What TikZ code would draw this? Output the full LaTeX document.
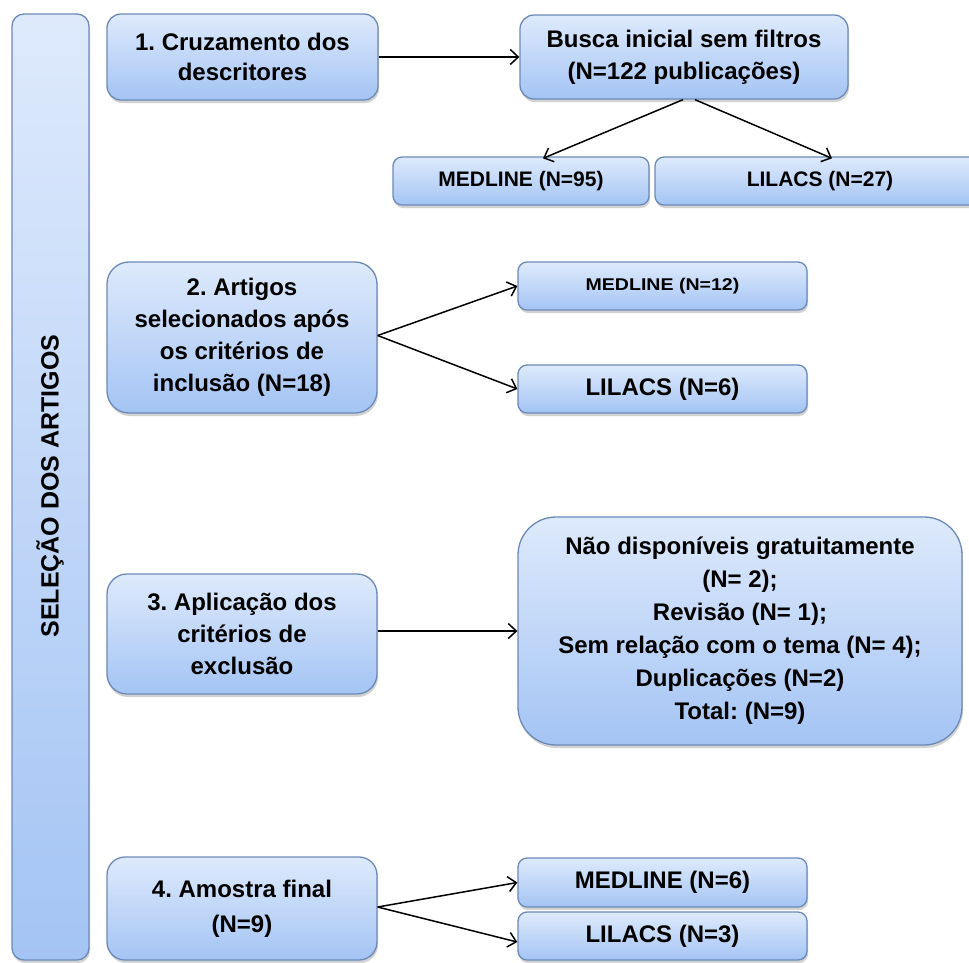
\documentclass[tikz,border=0pt]{standalone}
\usepackage{fontspec}
\setmainfont{Liberation Sans}
\frenchspacing
\usetikzlibrary{arrows.meta,shadows,calc}
\definecolor{boxtop}{RGB}{222,234,252}
\definecolor{boxbot}{RGB}{164,196,244}
\definecolor{boxline}{RGB}{108,138,182}
\tikzset{
  box/.style={draw=boxline, line width=1.3pt, rectangle, rounded corners=14pt,
    top color=boxtop, bottom color=boxbot, align=center, inner sep=2pt,
    font=\fontsize{24}{32}\selectfont\bfseries,
    drop shadow={opacity=0.35, shadow xshift=1pt, shadow yshift=-3pt}},
  smallbox/.style={box, rounded corners=9pt},
  arr/.style={line width=1.5pt, -{Straight Barb[length=8pt,width=15pt,line width=1.5pt]}}
}
\begin{document}
\begin{tikzpicture}[x=1pt,y=-1pt]
\useasboundingbox (0,0) rectangle (969,962);
\fill[white] (0,0) rectangle (969,962);

\node[box, rounded corners=12pt, minimum width=77pt, minimum height=946pt] (side) at (50.5,487) {};
\node[rotate=90, font=\fontsize{25}{28}\selectfont\bfseries] (sidelbl) at (50,486) {SELEÇÃO DOS ARTIGOS};

\node[box, minimum width=271pt, minimum height=86pt, font=\fontsize{24}{30}\selectfont\bfseries] (b1) at (242.5,57) {1. Cruzamento dos\\descritores};
\node[box, minimum width=328pt, minimum height=84pt] (busca) at (684,57) {Busca inicial sem filtros\\(N=122 publicações)};
\node[smallbox, minimum width=256pt, minimum height=48pt, font=\fontsize{21}{26}\selectfont\bfseries] (med95) at (521,181) {MEDLINE (N=95)};
\node[smallbox, minimum width=330pt, minimum height=48pt, font=\fontsize{21}{26}\selectfont\bfseries] (lil27) at (820,181) {LILACS (N=27)};

\node[box, rounded corners=22pt, minimum width=270pt, minimum height=151pt] (b2) at (242,337.5) {2. Artigos\\selecionados após\\os critérios de\\inclusão (N=18)};
\node[smallbox, minimum width=289pt, minimum height=48pt, font=\fontsize{17}{22}\selectfont\bfseries] (med12) at (662.5,286) {\scalebox{1.15}[1]{MEDLINE (N=12)}};
\node[smallbox, minimum width=289pt, minimum height=48pt] (lil6) at (662.5,389) {LILACS (N=6)};

\node[box, rounded corners=20pt, minimum width=270pt, minimum height=120pt] (b3) at (242,634) {3. Aplicação dos\\critérios de\\exclusão};
\node[box, rounded corners=38pt, minimum width=444pt, minimum height=228pt, font=\fontsize{24}{33}\selectfont\bfseries] (big) at (740,631) {Não disponíveis gratuitamente\\(N= 2);\\Revisão (N= 1);\\Sem relação com o tema (N= 4);\\Duplicações (N=2)\\Total: (N=9)};

\node[box, rounded corners=18pt, minimum width=270pt, minimum height=103pt, font=\fontsize{24}{35}\selectfont\bfseries] (b4) at (242,908.5) {4. Amostra final\\(N=9)};
\node[smallbox, minimum width=289pt, minimum height=49pt] (med6) at (662.5,882.5) {MEDLINE (N=6)};
\node[smallbox, minimum width=289pt, minimum height=48pt] (lil3) at (662.5,936) {LILACS (N=3)};

\draw[arr] (b1.east) -- (busca.west);
\draw[arr] ([xshift=-1pt]busca.south) -- ([xshift=22pt,yshift=-2pt]med95.north);
\draw[arr] ([xshift=11pt]busca.south) -- ([xshift=12pt,yshift=-2pt]lil27.north);
\draw[arr] ([yshift=2pt]b2.east) -- (med12.west);
\draw[arr] ([yshift=2pt]b2.east) -- (lil6.west);
\draw[arr] ([yshift=3pt]b3.east) -- ([yshift=3pt]b3.east -| big.west);
\draw[arr] ([yshift=1.5pt]b4.east) -- (med6.west);
\draw[arr] ([yshift=1.5pt]b4.east) -- ([yshift=-6pt]lil3.west);
\end{tikzpicture}
\end{document}
